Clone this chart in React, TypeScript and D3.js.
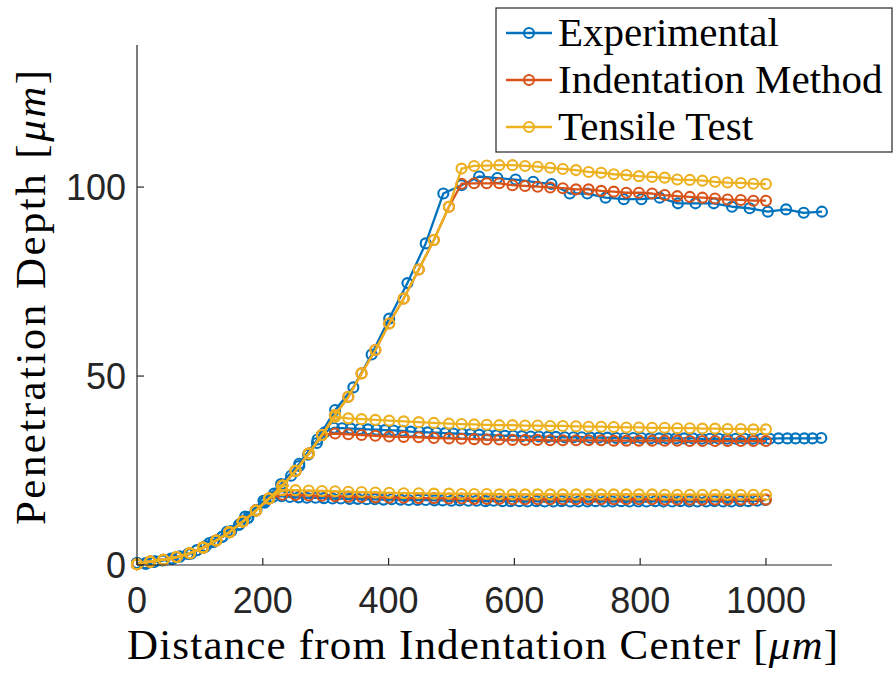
import React from "react";
import * as d3 from "d3";

// Simulated node positions (µm) shared by the Indentation Method and Tensile Test models
const SIM_X = [0, 21, 42, 63, 84, 105, 126, 147, 168, 189, 210, 231, 252, 273, 294, 315, 336, 357, 379, 401, 424, 448, 472, 496, 516, 536, 556, 576, 597, 617, 637, 657, 677, 698, 718, 738, 758, 778, 798, 819, 839, 859, 879, 899, 919, 939, 960, 980, 1000];

// Tensile Test model, three indentation depths
const TENSILE_1 = [0.2, 0.9, 1.4, 2.1, 3.1, 4.6, 6.5, 8.7, 11.5, 14.4, 17.6, 19.8, 19.8, 19.7, 19.6, 19.5, 19.4, 19.3, 19.2, 19.1, 19.0, 19.0, 18.9, 18.9, 18.8, 18.8, 18.8, 18.7, 18.7, 18.7, 18.7, 18.7, 18.7, 18.7, 18.7, 18.7, 18.7, 18.7, 18.7, 18.7, 18.6, 18.6, 18.6, 18.6, 18.6, 18.6, 18.6, 18.6, 18.6];
const TENSILE_2 = [0.2, 0.9, 1.4, 2.1, 3.1, 4.6, 6.5, 8.7, 11.5, 14.4, 17.6, 21.0, 24.9, 29.5, 34.4, 39.2, 38.8, 38.6, 38.4, 38.2, 38.0, 37.8, 37.6, 37.4, 37.3, 37.2, 37.1, 37.0, 37.0, 36.9, 36.9, 36.8, 36.8, 36.7, 36.6, 36.6, 36.5, 36.4, 36.4, 36.3, 36.3, 36.2, 36.2, 36.1, 36.1, 36.0, 36.0, 35.9, 35.9];
const TENSILE_3 = [0.2, 0.9, 1.4, 2.1, 3.1, 4.6, 6.5, 8.7, 11.5, 14.4, 17.6, 21.0, 24.9, 29.5, 34.4, 39.7, 44.5, 50.7, 56.9, 63.9, 70.5, 78.2, 86.0, 94.8, 104.9, 105.6, 105.7, 105.8, 105.8, 105.6, 105.4, 105.1, 104.8, 104.5, 104.0, 103.8, 103.4, 103.2, 102.9, 102.7, 102.5, 102.0, 101.9, 101.7, 101.4, 101.2, 101.1, 100.9, 100.8];

// Indentation Method model, three indentation depths
const INDENT_1 = [0.2, 0.9, 1.4, 2.1, 3.1, 4.6, 6.5, 8.7, 11.5, 14.4, 17.6, 18.6, 18.5, 18.4, 18.3, 18.2, 18.1, 18.0, 17.9, 17.8, 17.8, 17.7, 17.7, 17.6, 17.6, 17.5, 17.5, 17.5, 17.4, 17.4, 17.4, 17.4, 17.4, 17.4, 17.4, 17.4, 17.4, 17.4, 17.4, 17.4, 17.3, 17.3, 17.3, 17.3, 17.3, 17.3, 17.3, 17.3, 17.3];
const INDENT_2 = [0.2, 0.9, 1.4, 2.1, 3.1, 4.6, 6.5, 8.7, 11.5, 14.4, 17.6, 21.0, 24.9, 29.5, 34.4, 34.8, 34.6, 34.4, 34.2, 34.0, 33.9, 33.8, 33.6, 33.5, 33.4, 33.3, 33.2, 33.2, 33.1, 33.1, 33.1, 33.0, 33.0, 33.0, 33.0, 33.0, 32.9, 32.9, 32.9, 32.9, 32.9, 32.9, 32.8, 32.8, 32.8, 32.8, 32.8, 32.8, 32.8];
const INDENT_3 = [0.2, 0.9, 1.4, 2.1, 3.1, 4.6, 6.5, 8.7, 11.5, 14.4, 17.6, 21.0, 24.9, 29.5, 34.4, 39.7, 44.5, 50.7, 56.9, 63.9, 70.5, 78.2, 86.0, 94.8, 100.9, 101.0, 101.0, 101.0, 100.5, 100.3, 100.1, 99.9, 99.7, 99.4, 99.4, 99.0, 98.8, 98.5, 98.5, 98.3, 97.9, 97.6, 97.4, 97.2, 97.0, 96.7, 96.6, 96.4, 96.4];

// Experimental profiles (measured positions differ per scan)
const EXP_1_X = [0, 14, 27, 41, 54, 68, 81, 95, 108, 122, 135, 149, 162, 176, 189, 203, 216, 230, 243, 257, 270, 284, 297, 311, 324, 338, 351, 365, 378, 392, 405, 419, 432, 446, 459, 473, 486, 500, 513, 527, 540, 554, 567, 581, 594, 608, 621, 635, 648, 662, 675, 689, 702, 716, 729, 743, 756, 770, 783, 797, 810, 824, 837, 851, 864, 878, 891, 905, 918, 932, 945, 959, 972, 986, 999];
const EXP_1_Y = [0.5, 0.3, 0.8, 1.2, 1.6, 2.2, 2.9, 3.9, 4.8, 6.1, 7.4, 8.9, 10.6, 12.4, 14.4, 16.5, 18.0, 18.2, 18.0, 17.9, 17.8, 17.8, 17.7, 17.6, 17.6, 17.5, 17.5, 17.4, 17.4, 17.3, 17.4, 17.3, 17.2, 17.2, 17.2, 17.1, 17.1, 17.0, 17.1, 17.0, 17.0, 16.9, 17.0, 16.9, 16.9, 16.9, 16.8, 16.9, 16.8, 16.8, 16.9, 16.8, 16.8, 16.8, 16.9, 16.8, 16.8, 16.9, 16.8, 16.8, 16.8, 16.9, 16.8, 16.8, 16.9, 16.8, 16.8, 16.8, 16.9, 16.8, 16.8, 16.9, 16.9, 17.0, 17.2];

const EXP_2_X = [0, 14, 27, 41, 54, 68, 82, 95, 109, 122, 136, 150, 163, 177, 190, 204, 218, 231, 245, 258, 272, 286, 299, 313, 326, 340, 354, 367, 381, 394, 408, 422, 435, 449, 462, 476, 490, 503, 517, 530, 544, 558, 571, 585, 598, 612, 626, 639, 653, 666, 680, 694, 707, 721, 734, 748, 762, 775, 789, 802, 816, 830, 843, 857, 870, 884, 898, 911, 925, 938, 952, 966, 979, 993, 1006, 1020, 1034, 1047, 1061, 1074, 1088];
const EXP_2_Y = [0.4, 0.5, 0.9, 1.3, 1.7, 2.3, 3.0, 3.9, 5.0, 6.2, 7.5, 9.0, 10.8, 12.6, 14.6, 16.8, 18.9, 21.1, 23.6, 26.2, 29.2, 32.3, 35.2, 36.3, 36.2, 36.1, 36.0, 35.9, 35.8, 35.7, 35.6, 35.5, 35.3, 35.2, 35.1, 35.0, 34.9, 34.8, 34.7, 34.6, 34.5, 34.4, 34.3, 34.2, 34.2, 34.1, 34.0, 34.0, 33.9, 33.9, 33.8, 33.8, 33.8, 33.7, 33.7, 33.7, 33.6, 33.6, 33.6, 33.6, 33.5, 33.5, 33.5, 33.5, 33.5, 33.5, 33.4, 33.4, 33.4, 33.4, 33.4, 33.4, 33.4, 33.4, 33.4, 33.5, 33.5, 33.5, 33.5, 33.5, 33.6];

const EXP_3_X = [0, 29, 57, 86, 115, 143, 172, 201, 229, 258, 287, 315, 344, 373, 401, 430, 459, 487, 516, 544, 573, 602, 630, 659, 688, 716, 745, 774, 802, 831, 860, 888, 917, 946, 974, 1003, 1032, 1060, 1089];
const EXP_3_Y = [0.5, 1.0, 1.6, 3.0, 5.8, 8.8, 12.8, 17.0, 21.4, 26.8, 33.2, 41.0, 47.0, 55.7, 65.2, 74.6, 85.1, 98.3, 100.5, 102.8, 102.4, 102.0, 101.4, 100.8, 98.3, 98.3, 97.2, 96.8, 96.8, 97.2, 95.7, 95.7, 95.7, 94.8, 94.4, 93.5, 94.1, 93.2, 93.5];

const X_TICKS = [0, 200, 400, 600, 800, 1000];
const Y_TICKS = [0, 50, 100];
const LEGEND_LABELS = ["Experimental", "Indentation Method", "Tensile Test"];
const COLORS = ["#0072BD", "#D95319", "#EDB120"];

const W = 893;
const H = 675;
const AXIS = "#262626";

const x = d3.scaleLinear().domain([0, 1105]).range([137, 832]);
const y = d3.scaleLinear().domain([0, 137.6]).range([565, 45]);

type Series = { xs: number[]; ys: number[]; color: string };

const series: Series[] = [
  { xs: EXP_1_X, ys: EXP_1_Y, color: COLORS[0] },
  { xs: EXP_2_X, ys: EXP_2_Y, color: COLORS[0] },
  { xs: EXP_3_X, ys: EXP_3_Y, color: COLORS[0] },
  { xs: SIM_X, ys: INDENT_1, color: COLORS[1] },
  { xs: SIM_X, ys: INDENT_2, color: COLORS[1] },
  { xs: SIM_X, ys: INDENT_3, color: COLORS[1] },
  { xs: SIM_X, ys: TENSILE_1, color: COLORS[2] },
  { xs: SIM_X, ys: TENSILE_2, color: COLORS[2] },
  { xs: SIM_X, ys: TENSILE_3, color: COLORS[2] },
];

const line = d3
  .line<[number, number]>()
  .x((d) => x(d[0]))
  .y((d) => y(d[1]));

const MARKER_R = 5;
const MARKER_W = 2.1;
const LINE_W = 2.3;
const serif = "'Liberation Serif', 'Times New Roman', serif";
const sans = "'Liberation Sans', Arial, Helvetica, sans-serif";

export default function App() {
  const legendRows = [33, 80, 127];
  return (
    <svg
      width={W}
      height={H}
      viewBox={`0 0 ${W} ${H}`}
      style={{ position: "absolute", left: 0, top: 0, display: "block", background: "#fff" }}
    >
      <rect x={0} y={0} width={W} height={H} fill="#fff" />

      {/* data */}
      {series.map((s, i) => {
        const pts: [number, number][] = s.xs.map((v, k) => [v, s.ys[k]]);
        return (
          <g key={i}>
            <path d={line(pts) ?? ""} fill="none" stroke={s.color} strokeWidth={LINE_W} strokeLinejoin="round" />
            {pts.map((p, k) => (
              <circle key={k} cx={x(p[0])} cy={y(p[1])} r={MARKER_R} fill="none" stroke={s.color} strokeWidth={MARKER_W} />
            ))}
          </g>
        );
      })}

      {/* axes */}
      <line x1={x(0)} x2={x(0)} y1={y(0)} y2={y(137.6)} stroke={AXIS} strokeWidth={1.2} />
      <line x1={x(0)} x2={x(1105)} y1={y(0)} y2={y(0)} stroke={AXIS} strokeWidth={1.2} />
      {X_TICKS.map((t) => (
        <g key={t}>
          <line x1={x(t)} x2={x(t)} y1={y(0)} y2={y(0) - 7} stroke={AXIS} strokeWidth={1.2} />
          <text x={x(t)} y={613} textAnchor="middle" fontFamily={sans} fontSize={36} fill={AXIS}>
            {t}
          </text>
        </g>
      ))}
      {Y_TICKS.map((t) => (
        <g key={t}>
          <line x1={x(0)} x2={x(0) + 7} y1={y(t)} y2={y(t)} stroke={AXIS} strokeWidth={1.2} />
          <text x={126} y={y(t) + 13} textAnchor="end" fontFamily={sans} fontSize={36} fill={AXIS}>
            {t}
          </text>
        </g>
      ))}

      {/* axis labels */}
      <text
        x={482.5}
        y={659}
        textAnchor="middle"
        fontFamily={serif}
        fontSize={43}
        fill="#000"
        textLength={711}
        lengthAdjust="spacing"
      >
        Distance from Indentation Center [<tspan fontStyle="italic">μm</tspan>]
      </text>
      <text
        transform="translate(45,297.5) rotate(-90)"
        x={0}
        y={0}
        textAnchor="middle"
        fontFamily={serif}
        fontSize={43}
        fill="#000"
        textLength={455}
        lengthAdjust="spacing"
      >
        Penetration Depth [<tspan fontStyle="italic">μm</tspan>]
      </text>

      {/* legend */}
      <rect x={496} y={8} width={396} height={144} fill="#fff" stroke={AXIS} strokeWidth={1.2} />
      {LEGEND_LABELS.map((label, i) => (
        <g key={label}>
          <line x1={506} x2={552} y1={legendRows[i]} y2={legendRows[i]} stroke={COLORS[i]} strokeWidth={LINE_W} />
          <circle cx={529} cy={legendRows[i]} r={MARKER_R} fill="none" stroke={COLORS[i]} strokeWidth={MARKER_W} />
          <text x={558} y={legendRows[i] + 13} fontFamily={serif} fontSize={41} fill="#000">
            {label}
          </text>
        </g>
      ))}
    </svg>
  );
}
